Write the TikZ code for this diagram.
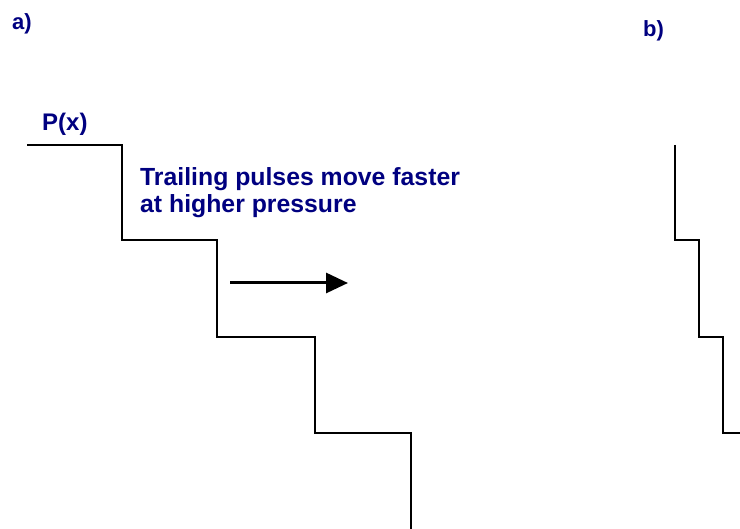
\documentclass[tikz,border=0pt]{standalone}
\usepackage{fontspec}
\setmainfont{Liberation Sans}
\usetikzlibrary{arrows.meta}
\definecolor{navytxt}{RGB}{0,0,128}
\begin{document}
\begin{tikzpicture}[x=1pt,y=-1pt,
  lbl/.style={inner sep=0pt,anchor=base west,text=navytxt,font=\fontsize{22}{26}\selectfont\bfseries},
  txt/.style={inner sep=0pt,anchor=base west,text=navytxt,font=\fontsize{24.8}{28}\selectfont\bfseries},
  stair/.style={line width=2pt,line join=miter},
  movearrow/.style={line width=3pt,-{Triangle[length=22pt,width=20pt]}}]
\useasboundingbox[fill=white] (0,0) rectangle (740,529);
\node[lbl] (la) at (12,30) {a)};
\node[lbl] (lb) at (643,37) {b)};
\node[lbl,font=\fontsize{24}{28}\selectfont\bfseries] (px) at (42,131) {P(x)};
\node[txt] (t1) at (140,186) {Trailing pulses move faster};
\node[txt] (t2) at (140,213) {at higher pressure};
\draw[stair] (27,145) -- (122,145) -- (122,240) -- (217,240) -- (217,337) -- (315,337) -- (315,433) -- (411,433) -- (411,529);
\draw[stair] (675,145) -- (675,240) -- (699,240) -- (699,337) -- (723,337) -- (723,433) -- (741,433);
\coordinate (as) at (230,283);
\coordinate (ae) at (348,283);
\draw[movearrow] (as) -- (ae);
\end{tikzpicture}
\end{document}
